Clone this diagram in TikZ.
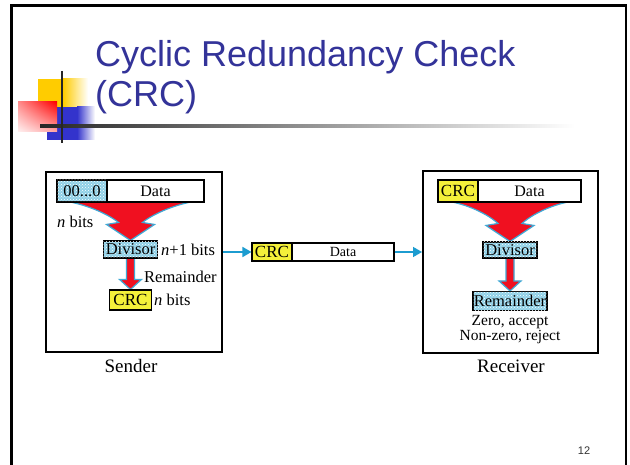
\documentclass[tikz,border=0pt]{standalone}
\usepackage{fontspec}
\setmainfont{Liberation Serif}
\newfontfamily\sansf{Liberation Sans}
\usetikzlibrary{arrows.meta,patterns,backgrounds,calc,shadings}
\newcommand\fsz[1]{\fontsize{#1}{#1}\selectfont}
\definecolor{titleblue}{HTML}{333399}
\definecolor{decoyellow}{HTML}{FFCC00}
\definecolor{decoblue}{HTML}{3333CC}
\definecolor{cellblue}{HTML}{8FD0E6}
\definecolor{crcyellow}{HTML}{F4F03A}
\definecolor{arrowred}{HTML}{F01020}
\definecolor{outlineblue}{HTML}{3FA9D6}
\definecolor{connblue}{HTML}{1C9CD0}
\begin{document}
\begin{tikzpicture}[x=1pt,y=-1pt,
  cell/.style={draw=black, line width=1.1pt, inner sep=0pt, font=\fsz{16.5}},
  cellpat/.style={cell, fill=cellblue, postaction={pattern=crosshatch dots, pattern color=white}},
  crccell/.style={cell, fill=crcyellow, font=\fsz{17}},
  datacell/.style={cell, fill=white},
  lbl/.style={inner sep=0pt, font=\fsz{16.5}},
  boxframe/.style={draw=black, line width=2pt, inner sep=0pt},
  redarrow/.style={fill=arrowred, draw=outlineblue, line width=1.2pt, line join=miter},
  conn/.style={draw=connblue, line width=1.6pt, -{Triangle[length=9pt,width=10pt]}},
]
\useasboundingbox (0,0) rectangle (630,465);
% slide frame
\draw[black, line width=2.6pt] (11.3,470) -- (11.3,5.8) -- (625.8,5.8) -- (625.8,470);
% title decoration
\fill[decoyellow] (38,79) rectangle (63,107);
\shade[left color=decoyellow, right color=white] (63,79) rectangle (88,107);
\fill[decoblue] (47,107) rectangle (77,140);
\shade[left color=decoblue, right color=white] (77,107) rectangle (95,140);
\shade[upper right=red, upper left=red!45, lower right=red!35, lower left=red!5] (18,102) rectangle (57,132);
\shade[left color=black!85, right color=white] (40,124.7) rectangle (575,127.5);
\draw[black!85, line width=2.5pt] (62,71) -- (62,143);
% title
\node[anchor=base west, text=titleblue, font=\sansf\fsz{36}, inner sep=0pt] (t1) at (95,67) {Cyclic Redundancy Check};
\node[anchor=base west, text=titleblue, font=\sansf\fsz{36}, inner sep=0pt] (t2) at (95,107) {(CRC)};
% sender
\node[boxframe, minimum width=176pt, minimum height=180pt] (sbox) at (134,262) {};
\node[cellpat, minimum width=50pt, minimum height=22pt] (szero) at (82,191) {00...0};
\node[datacell, minimum width=97pt, minimum height=22pt, font=\fsz{16}] (sdata) at (155.5,191) {Data};
\node[cellpat, minimum width=54pt, minimum height=17pt] (sdiv) at (130.5,249.5) {Divisor};
\node[crccell, minimum width=42pt, minimum height=20pt] (scrc) at (130.5,300) {CRC};
\node[lbl, anchor=west] (snb) at (57,222) {\textit{n} bits};
\node[lbl, anchor=west] (sn1) at (161,250) {\textit{n}+1 bits};
\node[lbl, anchor=west] (srem) at (144,277) {Remainder};
\node[lbl, anchor=west] (snb2) at (154,300) {\textit{n} bits};
\node[inner sep=0pt, font=\fsz{19}] (slab) at (131,366) {Sender};
% middle
\node[crccell, minimum width=40pt, minimum height=18pt] (mcrc) at (272,252) {CRC};
\node[datacell, minimum width=102pt, minimum height=18pt, font=\fsz{14}] (mdata) at (343,252) {Data};
% receiver
\node[boxframe, minimum width=175pt, minimum height=182pt] (rbox) at (510.5,262) {};
\node[crccell, minimum width=40pt, minimum height=22pt] (rcrc) at (458,191) {CRC};
\node[datacell, minimum width=103pt, minimum height=22pt, font=\fsz{16}] (rdata) at (529.5,191) {Data};
\node[cellpat, minimum width=54pt, minimum height=16pt] (rdiv) at (510,250) {Divisor};
\node[cellpat, minimum width=74pt, minimum height=19pt] (rrem) at (510,301) {Remainder};
\node[lbl, font=\fsz{15.5}] (rz1) at (510,322) {Zero, accept};
\node[lbl, font=\fsz{15.5}] (rz2) at (510,337.5) {Non-zero, reject};
\node[inner sep=0pt, font=\fsz{19}] (rlab) at (511,366) {Receiver};
% page number
\node[inner sep=0pt, font=\sansf\fsz{11}, text=black!80] (pg) at (584,451) {12};
% connectors
\draw[conn] (sbox.east |- mcrc.west) -- (mcrc.west);
\draw[conn] (mdata.east) -- (rbox.west |- mdata.east);
% red arrows
\begin{scope}[on background layer]
  \fill[white] (0,0) rectangle (630,465);
  \begin{scope}[shift={(sdiv.north)}]
    \path[redarrow] (-70,-40) -- (70,-40) .. controls (45,-37) and (22,-26) .. (12,-18) -- (24,-16) -- (0,0) -- (-24,-16) -- (-12,-18) .. controls (-22,-26) and (-45,-37) .. (-70,-40) -- cycle;
  \end{scope}
  \begin{scope}[shift={(rdiv.north)}]
    \path[redarrow] (-67,-41) -- (67,-41) .. controls (43,-38) and (22,-27) .. (12,-18) -- (24,-16) -- (0,0) -- (-24,-16) -- (-12,-18) .. controls (-22,-27) and (-43,-38) .. (-67,-41) -- cycle;
  \end{scope}
  \begin{scope}[shift={(scrc.north)}]
    \path[redarrow] (-4,-33) -- (4,-33) -- (4,-10) -- (11,-10) -- (0,0) -- (-11,-10) -- (-4,-10) -- cycle;
  \end{scope}
  \begin{scope}[shift={(rrem.north)}]
    \path[redarrow] (-4,-35) -- (4,-35) -- (4,-10) -- (11,-10) -- (0,0) -- (-11,-10) -- (-4,-10) -- cycle;
  \end{scope}
\end{scope}
\end{tikzpicture}
\end{document}
